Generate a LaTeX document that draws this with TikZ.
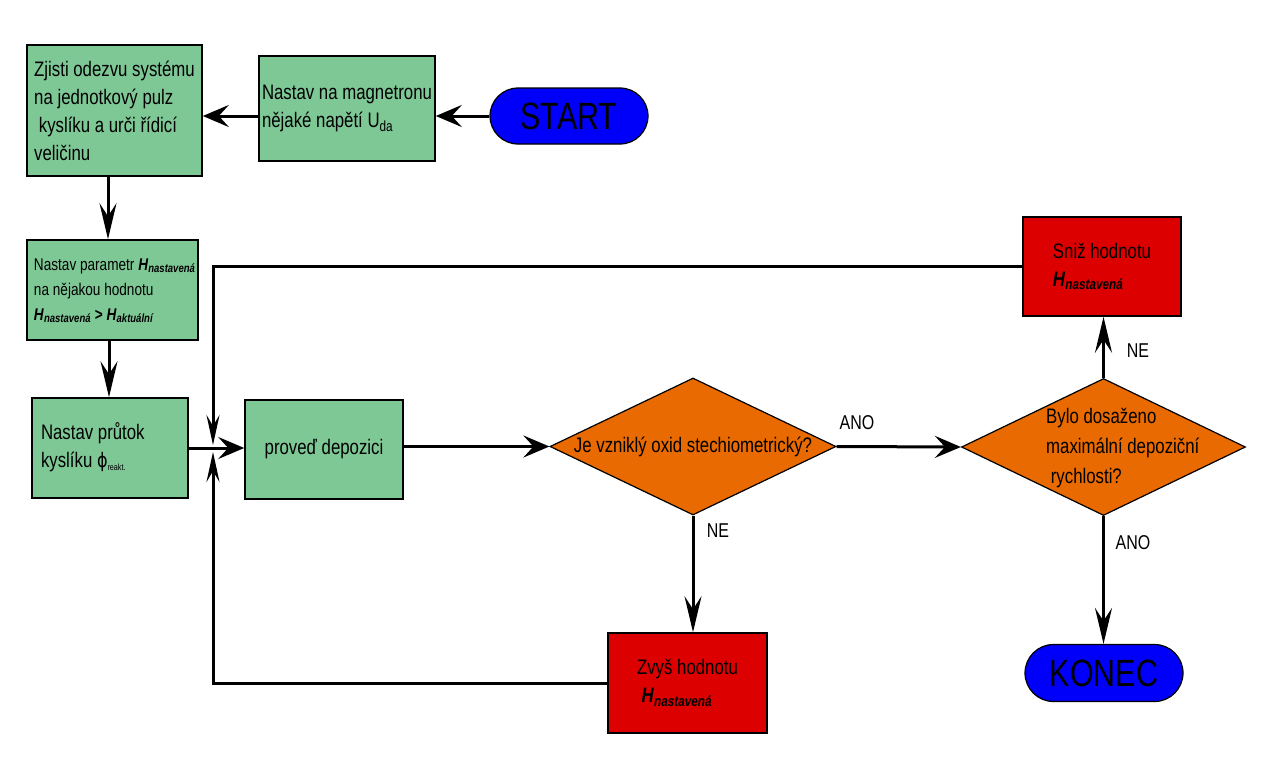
\documentclass[tikz,border=0pt]{standalone}
\usepackage{fontspec}
\setmainfont{Liberation Sans}[FakeStretch=0.8]
\newfontfamily\dejavu{DejaVu Sans}[FakeStretch=0.8]
\usetikzlibrary{arrows.meta,shapes.geometric,shapes.misc}
\definecolor{boxgreen}{RGB}{126,200,150}
\definecolor{boxred}{RGB}{221,0,0}
\definecolor{decorange}{RGB}{232,106,0}
\definecolor{termblue}{RGB}{0,0,250}
\newcommand\bi[1]{\textbf{\textit{#1}}}
\newcommand\Hsub[1]{\bi{H}\textsubscript{\bi{#1}}}
\newcommand\leftblock[2]{\makebox[#1][l]{\begin{tabular}{@{}l@{}}#2\end{tabular}}}
\tikzset{
 box/.style={draw=black, line width=1.6pt, fill=boxgreen, inner sep=0pt, align=left, font=\fontsize{21}{28}\selectfont},
 redbox/.style={box, fill=boxred},
 dec/.style={diamond, draw=black, line width=1.2pt, fill=decorange, inner sep=0pt, font=\fontsize{21}{30}\selectfont},
 term/.style={rounded rectangle, draw=black, line width=1.2pt, fill=termblue, inner sep=0pt, font=\fontsize{38}{40}\selectfont},
 conn/.style={line width=3pt, -{Stealth[length=26pt,width=22pt,inset=10pt]}},
 vconn/.style={line width=3pt, -{Stealth[length=36pt,width=17pt,inset=13pt]}},
 jconn/.style={line width=3pt, -{Stealth[length=30pt,width=13pt,inset=11pt]}},
 lbl/.style={font=\fontsize{20}{22}\selectfont, inner sep=0pt},
 txt/.style={inner sep=0pt, align=left, font=\fontsize{21}{30}\selectfont},
}
\begin{document}
\begin{tikzpicture}[x=1pt,y=-1pt]
\useasboundingbox[fill=white] (0,0) rectangle (1269,774);
% nodes
\node[box, minimum width=175pt, minimum height=131pt] (A) at (114.5,110.5)
  {Zjisti odezvu systému\\na jednotkový pulz\\\ kyslíku a urči řídicí\\veličinu};
\node[box, minimum width=176pt, minimum height=105pt] (B) at (347,108.5)
  {Nastav na magnetronu\\nějaké napětí U\textsubscript{da}};
\node[term, minimum width=158pt, minimum height=56pt] (START) at (569,116) {START};
\node[box, minimum width=171pt, minimum height=100pt, font=\fontsize{17}{25}\selectfont] (C) at (112.5,290)
  {\leftblock{157pt}{Nastav parametr \Hsub{nastavená}\\na nějakou hodnotu\\\Hsub{nastavená} \textbf{>} \Hsub{aktuální}}};
\node[box, minimum width=156pt, minimum height=100pt] (D) at (110,448)
  {\leftblock{138pt}{Nastav průtok\\kyslíku {\dejavu\fontsize{20}{20}\selectfont ϕ}\textsubscript{\fontsize{9}{10}\selectfont reakt.}}};
\node[box, minimum width=158pt, minimum height=99pt, align=center] (E) at (324,449.5) {proveď depozici};
\node[dec, minimum width=286pt, minimum height=137pt] (d1) at (693,446.5)
  {\smash{\raisebox{-6pt}{\makebox[0pt]{Je vzniklý oxid stechiometrický?}}}};
\node[dec, minimum width=284pt, minimum height=137pt] (d2) at (1103.5,447) {};
\node[txt, anchor=west] (d2t) at (1046,448)
  {Bylo dosaženo\\maximální depoziční\\\ rychlosti?};
\node[redbox, minimum width=158pt, minimum height=99pt] (F) at (1102,266.5)
  {Sniž hodnotu\\\Hsub{nastavená}};
\node[redbox, minimum width=159pt, minimum height=100pt] (G) at (687.5,683)
  {Zvyš hodnotu\\\ \Hsub{nastavená}};
\node[term, minimum width=158pt, minimum height=57pt] (KONEC) at (1104,673) {KONEC};
% coordinates
\coordinate (x1) at (108,0);
\coordinate (x2) at (109,0);
\coordinate (jt) at (213,445);
\coordinate (jb) at (213,452);
% connectors
\draw[conn] (START.west) -- (START.west -| B.east);
\draw[conn] (START.west -| B.west) -- (START.west -| A.east);
\draw[vconn] (A.south -| x1) -- (C.north -| x1);
\draw[vconn] (C.south -| x2) -- (D.north -| x2);
\draw[conn] (D.east) -- (D.east -| E.west);
\draw[conn] (E.east |- d1.west) -- (d1.west);
\draw[conn] (d1.east) -- (d2.west);
\draw[vconn] (d2.north) -- (d2.north |- F.south);
\draw[vconn] (d2.south) -- (d2.south |- KONEC.north);
\draw[vconn] (d1.south) -- (d1.south |- G.north);
\draw[jconn] (F.west) -| (jt);
\draw[jconn] (G.west) -| (jb);
% labels
\node[lbl] (l1) at (857,423) {ANO};
\node[lbl] (l2) at (1138,351) {NE};
\node[lbl] (l3) at (1133,543) {ANO};
\node[lbl] (l4) at (718,531) {NE};
\end{tikzpicture}
\end{document}
